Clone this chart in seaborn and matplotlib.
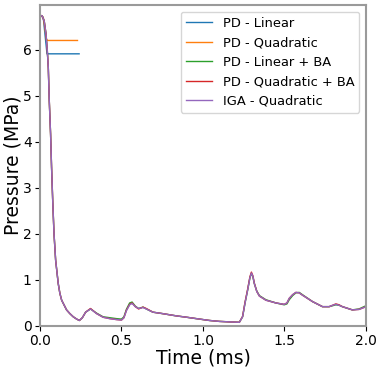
import numpy as np
import pandas as pd
import matplotlib
matplotlib.use("Agg")
import matplotlib.pyplot as plt
import seaborn as sns

# ---- data ----
t_pd_lin = [0.0, 0.02, 0.043, 0.24]
p_pd_lin = [6.75, 6.70, 5.91, 5.91]

t_pd_quad = [0.0, 0.02, 0.040, 0.048, 0.23]
p_pd_quad = [6.75, 6.70, 6.22, 6.20, 6.20]

t_full = [0.0, 0.014, 0.026, 0.037, 0.045, 0.051, 0.057, 0.065, 0.071, 0.078,
          0.086, 0.096, 0.112, 0.122, 0.133, 0.163, 0.183, 0.204, 0.225, 0.242,
          0.26, 0.28, 0.31, 0.347, 0.387, 0.428, 0.469, 0.5, 0.515, 0.53,
          0.55, 0.565, 0.585, 0.605, 0.632, 0.652, 0.693, 0.75, 0.836, 0.9,
          0.979, 1.04, 1.1, 1.16, 1.223, 1.243, 1.258, 1.274, 1.288, 1.297,
          1.306, 1.315, 1.33, 1.346, 1.386, 1.448, 1.498, 1.515, 1.529, 1.55,
          1.57, 1.59, 1.61, 1.672, 1.733, 1.774, 1.795, 1.815, 1.835, 1.855,
          1.916, 1.957, 2.0]

p_pd_lin_ba = [6.75, 6.73, 6.62, 6.34, 5.97, 5.61, 4.89, 4.17, 3.45, 2.73,
               2.01, 1.43, 0.92, 0.71, 0.56, 0.35, 0.27, 0.20, 0.15, 0.12,
               0.18, 0.30, 0.37, 0.28, 0.20, 0.18, 0.16, 0.15, 0.20, 0.36,
               0.50, 0.52, 0.43, 0.38, 0.41, 0.37, 0.30, 0.27, 0.22, 0.19,
               0.15, 0.12, 0.10, 0.09, 0.08, 0.20, 0.50, 0.78, 1.05, 1.14,
               1.07, 0.92, 0.76, 0.66, 0.57, 0.50, 0.46, 0.48, 0.57, 0.66,
               0.72, 0.73, 0.68, 0.53, 0.42, 0.42, 0.44, 0.46, 0.45, 0.42,
               0.35, 0.37, 0.44]

p_pd_quad_ba = [6.75, 6.73, 6.62, 6.34, 5.97, 5.61, 4.89, 4.17, 3.45, 2.73,
                2.01, 1.43, 0.92, 0.71, 0.56, 0.35, 0.27, 0.20, 0.15, 0.12,
                0.18, 0.30, 0.38, 0.27, 0.19, 0.16, 0.14, 0.13, 0.18, 0.34,
                0.47, 0.50, 0.42, 0.37, 0.41, 0.38, 0.30, 0.27, 0.22, 0.19,
                0.15, 0.12, 0.10, 0.09, 0.08, 0.21, 0.52, 0.80, 1.07, 1.17,
                1.09, 0.93, 0.75, 0.65, 0.56, 0.50, 0.47, 0.50, 0.60, 0.68,
                0.73, 0.72, 0.67, 0.53, 0.42, 0.42, 0.45, 0.48, 0.46, 0.42,
                0.35, 0.36, 0.42]

p_iga_quad = [6.75, 6.73, 6.62, 6.34, 5.97, 5.61, 4.89, 4.17, 3.45, 2.73,
              2.01, 1.43, 0.92, 0.71, 0.56, 0.35, 0.27, 0.20, 0.15, 0.12,
              0.18, 0.30, 0.37, 0.27, 0.19, 0.16, 0.14, 0.13, 0.18, 0.33,
              0.46, 0.49, 0.42, 0.38, 0.40, 0.37, 0.30, 0.27, 0.22, 0.19,
              0.15, 0.12, 0.10, 0.09, 0.08, 0.20, 0.50, 0.78, 1.05, 1.15,
              1.08, 0.92, 0.75, 0.65, 0.56, 0.50, 0.47, 0.50, 0.60, 0.68,
              0.73, 0.72, 0.67, 0.53, 0.42, 0.42, 0.45, 0.47, 0.45, 0.42,
              0.35, 0.36, 0.42]

labels = ["PD - Linear", "PD - Quadratic", "PD - Linear + BA",
          "PD - Quadratic + BA", "IGA - Quadratic"]
colors = ["#1f77b4", "#ff7f0e", "#2ca02c", "#d62728", "#9467bd"]

series = [(t_pd_lin, p_pd_lin), (t_pd_quad, p_pd_quad),
          (t_full, p_pd_lin_ba), (t_full, p_pd_quad_ba), (t_full, p_iga_quad)]

frames = []
for lab, (tt, pp) in zip(labels, series):
    frames.append(pd.DataFrame({"Time": tt, "Pressure": pp, "Model": lab}))
df = pd.concat(frames, ignore_index=True)

# ---- plot ----
fig = plt.figure(figsize=(3.83, 3.71), dpi=100)
ax = fig.add_axes([0.1044, 0.1213, 0.8512, 0.8652])

sns.lineplot(data=df, x="Time", y="Pressure", hue="Model", hue_order=labels,
             palette=colors, estimator=None, sort=False, linewidth=1.0, ax=ax)

ax.set_xlim(0, 2.0)
ax.set_ylim(0, 6.97)
ax.set_xticks([0.0, 0.5, 1.0, 1.5, 2.0])
ax.set_yticks([0, 1, 2, 3, 4, 5, 6])
ax.tick_params(labelsize=10, colors="black", length=3.5, pad=2.5)
ax.set_xlabel("Time (ms)", fontsize=13.5, labelpad=0)
ax.set_ylabel("Pressure (MPa)", fontsize=13.5, labelpad=0)
for s in ax.spines.values():
    s.set_color("#9a9a9a")
    s.set_linewidth(1.5)

handles, labs = ax.get_legend_handles_labels()
ax.legend(handles, labs, loc="upper right", fontsize=9.4, frameon=True,
          borderaxespad=0.5)

fig.savefig("out.png", dpi=100)
